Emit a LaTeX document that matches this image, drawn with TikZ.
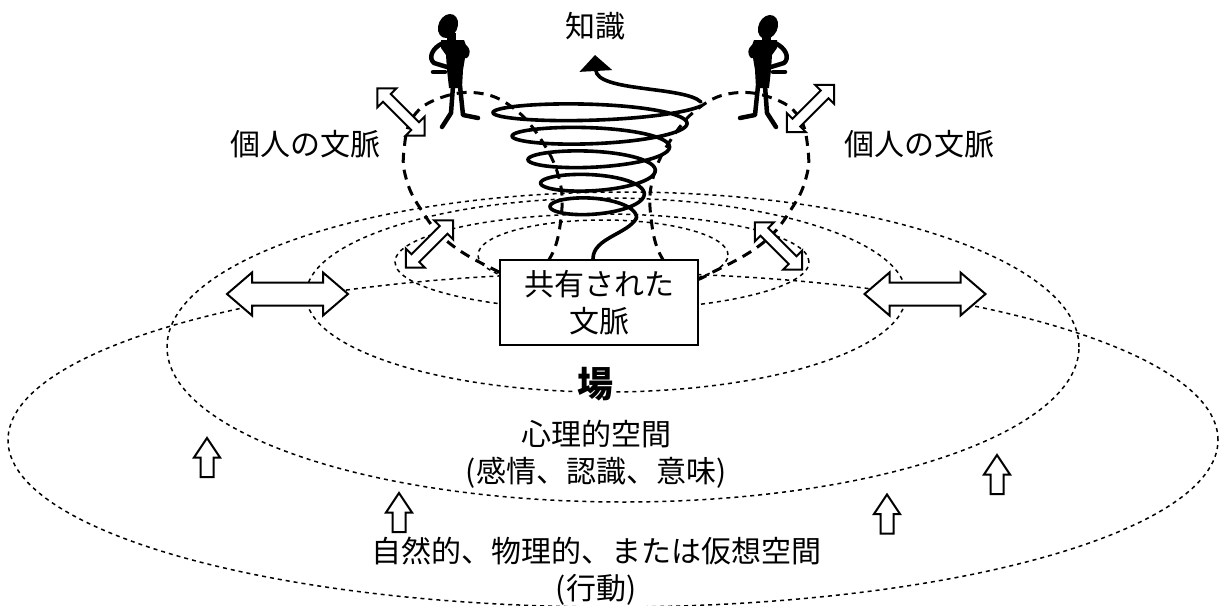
\documentclass[tikz,border=0pt]{standalone}
\usepackage{fontspec}
\setmainfont{Noto Sans CJK JP}
\usetikzlibrary{arrows.meta}

\begin{document}
\begin{tikzpicture}[x=1pt,y=-1pt,
  dotring/.style={line width=1.5pt, dash pattern=on 4pt off 4pt},
  dashring/.style={line width=3pt, dash pattern=on 10pt off 7pt},
  coil/.style={line width=3.6pt, line cap=round, line join=round},
  hollow/.style={draw, fill=white, line width=2pt, line join=miter},
  limb/.style={line width=4.5pt, line cap=round, line join=round},
  headshape/.style={fill=black},
  txt/.style={font=\fontsize{30}{37}\selectfont, align=center, inner sep=0pt},
  pics/dblarrow/.style n args={4}{code={
    \path[hollow] (-#1,0) -- (-#1+#2,-#3) -- (-#1+#2,-#4) -- (#1-#2,-#4)
      -- (#1-#2,-#3) -- (#1,0) -- (#1-#2,#3) -- (#1-#2,#4) -- (-#1+#2,#4)
      -- (-#1+#2,#3) -- cycle;}},
  pics/uparrow/.style={code={
    \path[hollow] (0,-19.5) -- (13,0) -- (6.5,0) -- (6.5,19.5) -- (-6.5,19.5)
      -- (-6.5,0) -- (-13,0) -- cycle;}},
  pics/person/.style={code={
    \fill (-5,33) rectangle (4,43);
    \fill (-11,40) -- (12,40) -- (15,48) -- (13,58) -- (11,70) -- (10,88)
      -- (-3,88) -- (-5,70) -- (-6,55) -- (-11,48) -- cycle;
    \draw[limb] (-9,43) .. controls (-20,48) and (-24,58) .. (-18,63) -- (-5,67);
    \draw[limb] (-19,72) -- (-7,72);
    \draw[limb] (13,47) .. controls (16,50) and (16,53) .. (14,56);
    \draw[limb] (1,86) -- (-1,113) -- (-10,127);
    \draw[limb] (8,86) -- (11,115) -- (26,118);}},
]
\useasboundingbox (0,0) rectangle (1223,605);
\fill[white] (0,0) rectangle (1223,605);

% nested spaces of ba
\begin{scope}
  \clip (0,0) rectangle (1223,605);
  \draw[dotring] (613,440) ellipse [x radius=605pt, y radius=167pt];
  \draw[dotring] (623,347) ellipse [x radius=456pt, y radius=155pt];
  \draw[dotring] (606,295) ellipse [x radius=300pt, y radius=97pt];
  \draw[dotring] (602,262) ellipse [x radius=207pt, y radius=48pt];
  \draw[dotring] (603,255) ellipse [x radius=125pt, y radius=35pt];
\end{scope}

% individual contexts
\draw[dashring] plot[smooth cycle, tension=0.7] coordinates {(404,150) (413,117)
  (440,98) (478,93) (512,107) (540,138) (559,178) (561,218) (550,258) (525,280)
  (495,270) (448,242) (420,208) (406,178)};
\draw[dashring] plot[smooth cycle, tension=0.7] coordinates {(808,150) (799,117)
  (772,98) (734,93) (700,107) (672,138) (653,178) (651,218) (662,258) (687,280)
  (717,270) (764,242) (792,208) (806,178)};

% knowledge spiral: stacked loops, each step taken at the right-hand side
\coordinate (coilstart) at (636.5,218);
\coordinate (coiltop) at (701,102);
\coordinate (coiltip) at (595,55);
\draw[coil] plot[domain=0:4.95, samples=500, variable=\t]
  ({595+(41.5+6.125*\t+1.625*\t*\t)*cos(-360*\t)},
   {218-23.5*(\t+sin(360*\t)/6.2832)+10*sin(-360*\t)});
\draw[coil, -{Triangle[length=16pt,width=32pt]}] (coiltop)
  .. controls (684,86) and (597,92) .. (coiltip);

% people
\fill[headshape, rotate around={-25:(448,26)}] (448,26) ellipse [x radius=9.5pt, y radius=12.5pt];
\fill[headshape, rotate around={-25:(768,27)}] (768,27) ellipse [x radius=9.5pt, y radius=12.5pt];
\pic at (452,0) {person};
\pic[xscale=-1] at (766,0) {person};

% exchanges between contexts
\pic at (287.5,294) {dblarrow={60.5}{25}{21.5}{11.5}};
\pic at (925,294) {dblarrow={60.5}{25}{21.5}{11.5}};
\pic[rotate=-45] at (401,112) {dblarrow={33.5}{13.5}{13.5}{5.5}};
\pic[rotate=45] at (810.5,108.5) {dblarrow={33.5}{13.5}{13.5}{5.5}};
\pic[rotate=45] at (429.5,244) {dblarrow={33.5}{13.5}{13.5}{5.5}};
\pic[rotate=-45] at (778.5,246) {dblarrow={33.5}{13.5}{13.5}{5.5}};

\pic at (207,457.5) {uparrow};
\pic at (399,512.5) {uparrow};
\pic at (887,514) {uparrow};
\pic at (997,474.5) {uparrow};

% labels
\node[txt, draw, fill=white, line width=2.6pt, minimum width=198pt,
  minimum height=85pt] (box) at (599,302.5) {共有された\\文脈};
\draw[coil] ([xshift=-6pt]box.north) .. controls (593,238) and (628,234) .. (coilstart);
\node[txt] (know) at (595,26) {知識};
\node[txt] (ctxL) at (305,144) {個人の文脈};
\node[txt] (ctxR) at (919,144) {個人の文脈};
\node[txt, font=\fontsize{36}{40}\selectfont\bfseries, fill=white, inner sep=2pt] (ba)
  at (595,384) {場};
\node[txt] (psy) at (596,454.5) {心理的空間\\(感情、認識、意味)};
\node[txt] (phys) at (596,571) {自然的、物理的、または仮想空間\\(行動)};
\end{tikzpicture}
\end{document}
